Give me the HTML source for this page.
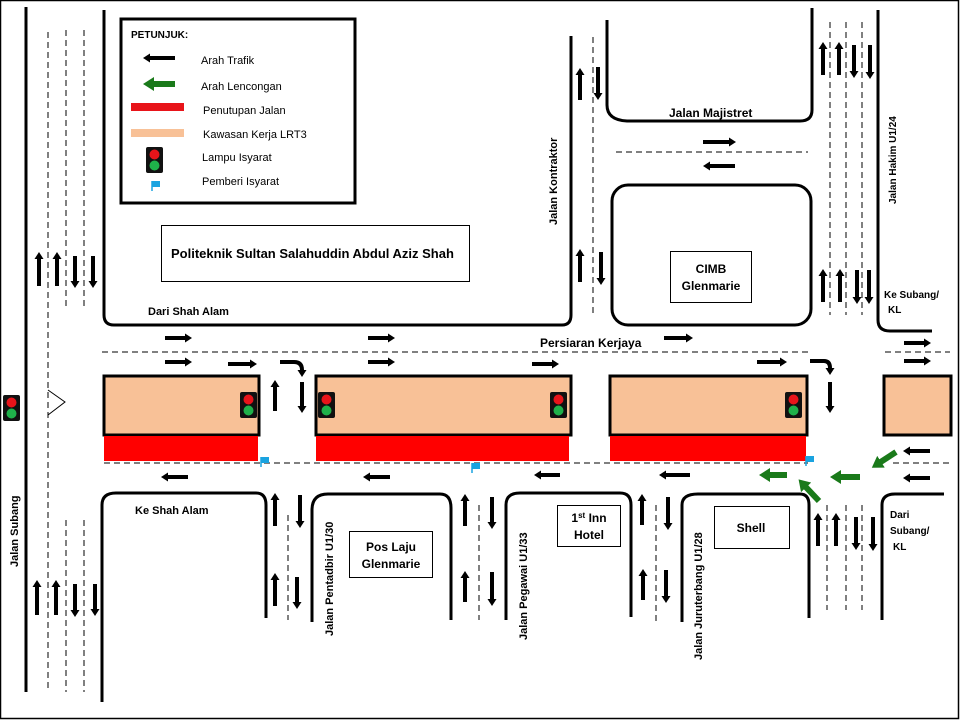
<!DOCTYPE html>
<html><head><meta charset="utf-8"><style>
html,body{margin:0;padding:0;background:#fff}
svg{display:block}
text{font-family:"Liberation Sans",sans-serif}
.b{font-weight:bold}
</style></head><body>
<svg width="960" height="720" viewBox="0 0 960 720" xmlns="http://www.w3.org/2000/svg">
<defs>
<marker id="a" markerUnits="userSpaceOnUse" markerWidth="8" markerHeight="9" refX="4" refY="4.5" orient="auto"><path d="M0,0 L7,4.5 L0,9z" fill="#000"/></marker>
<marker id="g" markerUnits="userSpaceOnUse" markerWidth="12" markerHeight="14" refX="6" refY="7" orient="auto"><path d="M0,0 L11,7 L0,14z" fill="#1a7a1a"/></marker>
<g id="tl"><rect x="0" y="0" width="17" height="26" rx="2" fill="#111"/><circle cx="8.5" cy="7.5" r="5" fill="#e8141a"/><circle cx="8.5" cy="18.5" r="5" fill="#1fb14a"/></g>
<g id="fl"><path d="M1,0 V10" stroke="#1aa3e0" stroke-width="1.5"/><rect x="1" y="0" width="8" height="6" fill="#1aa3e0"/></g>
</defs>
<rect x="0.5" y="0.5" width="958" height="718" fill="#fff" stroke="#000" stroke-width="1.5"/>

<g fill="none" stroke="#000" stroke-width="3">
<path d="M26,7 V692"/>
<path d="M104,10 V315 Q104,325 114,325 H562 Q571,325 571,315 V36"/>
<path d="M607,20 V105 Q607,120 627,121 H800 Q812,121 812,110 V8"/>
<rect x="612" y="185" width="199" height="140" rx="16"/>
<path d="M878,10 V320 Q878,331 890,331 H932"/>
<path d="M102,702 V505 Q102,493 116,493 H256 Q266,493 266,505 V618"/>
<path d="M312,622 V510 Q312,494 328,494 H440 Q451,494 451,508 V620"/>
<path d="M506,620 V505 Q506,493 520,493 H620 Q631,493 631,505 V617"/>
<path d="M682,622 V505 Q682,494 698,494 H800 Q809,494 809,505 V618"/>
<path d="M882,620 V505 Q882,494 895,494 H944"/>
</g>

<g stroke="#000" stroke-width="1" stroke-dasharray="6,4" fill="none">
<path d="M48,32 V692"/>
<path d="M66,30 V310 M84,30 V310 M66,520 V692 M84,520 V692"/>
<path d="M593,37 V313"/>
<path d="M616,152 H808"/>
<path d="M830,22 V315 M846,22 V315 M862,22 V315"/>
<path d="M102,352 H808 M885,352 H950"/>
<path d="M104,463 H808 M893,463 H950"/>
<path d="M288,515 V620 M479,505 V620 M656,505 V625"/>
<path d="M827,505 V610 M846,505 V610 M862,505 V610"/>
</g>

<rect x="121" y="19" width="234" height="184" fill="#fff" stroke="#000" stroke-width="3"/>
<text x="131" y="38" font-size="10" class="b">PETUNJUK:</text>
<path d="M175,58 H146" stroke="#000" stroke-width="4" marker-end="url(#a)"/>
<path d="M175,84 H148" stroke="#1a7a1a" stroke-width="6" marker-end="url(#g)"/>
<rect x="131" y="103" width="53" height="8" fill="#e8141a"/>
<rect x="131" y="129" width="53" height="8" fill="#f8c197"/>
<use href="#tl" x="146" y="147"/>
<use href="#fl" x="151" y="181"/>
<g font-size="11">
<text x="201" y="64">Arah Trafik</text>
<text x="201" y="90">Arah Lencongan</text>
<text x="203" y="114">Penutupan Jalan</text>
<text x="203" y="138">Kawasan Kerja LRT3</text>
<text x="202" y="161">Lampu Isyarat</text>
<text x="202" y="185">Pemberi Isyarat</text>
</g>

<rect x="161.5" y="225.5" width="308" height="56" fill="none" stroke="#000"/>
<text x="171" y="258" font-size="13" class="b">Politeknik Sultan Salahuddin Abdul Aziz Shah</text>
<text x="148" y="315" font-size="11" class="b">Dari Shah Alam</text>

<rect x="670.5" y="251.5" width="81" height="51" fill="none" stroke="#000"/>
<text x="711" y="273" font-size="12" class="b" text-anchor="middle">CIMB</text>
<text x="711" y="290" font-size="12" class="b" text-anchor="middle">Glenmarie</text>
<text x="669" y="117" font-size="12" class="b">Jalan Majistret</text>
<text x="540" y="347" font-size="12" class="b">Persiaran Kerjaya</text>
<text x="884" y="298" font-size="10" class="b">Ke Subang/</text>
<text x="888" y="313" font-size="10" class="b">KL</text>
<text transform="translate(557,225) rotate(-90)" font-size="11" class="b">Jalan Kontraktor</text>
<text transform="translate(896,204) rotate(-90)" font-size="10" class="b">Jalan  Hakim  U1/24</text>
<text transform="translate(18,567) rotate(-90)" font-size="11" class="b">Jalan Subang</text>

<g stroke="#000" stroke-width="3" fill="#f8c197">
<rect x="104" y="376" width="155" height="59"/>
<rect x="316" y="376" width="255" height="59"/>
<rect x="610" y="376" width="197" height="59"/>
<rect x="884" y="376" width="67" height="59"/>
</g>
<g fill="#f00">
<rect x="104" y="436" width="154" height="25"/>
<rect x="316" y="436" width="253" height="25"/>
<rect x="610" y="436" width="196" height="25"/>
</g>
<use href="#tl" x="240" y="392"/>
<use href="#tl" x="318" y="392"/>
<use href="#tl" x="550" y="392"/>
<use href="#tl" x="785" y="392"/>
<use href="#tl" x="3" y="395"/>
<path d="M48,390 L65,402 L48,415" fill="none" stroke="#000" stroke-width="1"/>
<use href="#fl" x="260" y="457"/>
<use href="#fl" x="471" y="463"/>
<use href="#fl" x="805" y="456"/>

<g stroke="#000" stroke-width="4" fill="none" marker-end="url(#a)">
<path d="M39,286 V255"/><path d="M57,286 V255"/><path d="M75,256 V285"/><path d="M93,256 V285"/>
<path d="M37,615 V583"/><path d="M56,615 V583"/><path d="M75,584 V614"/><path d="M95,584 V613"/>
<path d="M580,100 V71"/><path d="M598,67 V97"/><path d="M580,282 V252"/><path d="M601,252 V282"/>
<path d="M703,142 H733"/><path d="M735,166 H706"/>
<path d="M823,75 V45"/><path d="M839,75 V45"/><path d="M854,45 V75"/><path d="M870,45 V76"/>
<path d="M823,302 V272"/><path d="M840,302 V272"/><path d="M857,270 V301"/><path d="M869,270 V301"/>
<path d="M165,338 H189"/><path d="M368,338 H392"/><path d="M664,338 H690"/><path d="M904,343 H928"/>
<path d="M165,362 H189"/><path d="M228,364 H254"/><path d="M368,362 H392"/><path d="M532,364 H556"/><path d="M757,362 H784"/><path d="M904,361 H928"/>
<path d="M280,362 H294 Q302,362 302,370 V374"/>
<path d="M810,361 H824 Q830,361 830,368 V372"/>
<path d="M275,411 V383"/><path d="M302,382 V410"/><path d="M830,382 V410"/>
<path d="M188,477 H164"/><path d="M390,477 H366"/><path d="M560,475 H537"/><path d="M690,475 H662"/>
<path d="M930,451 H906"/><path d="M930,478 H906"/>
<path d="M275,526 V496"/><path d="M275,606 V576"/><path d="M300,495 V525"/><path d="M297,577 V606"/>
<path d="M465,526 V497"/><path d="M465,602 V574"/><path d="M492,497 V526"/><path d="M492,572 V603"/>
<path d="M642,525 V497"/><path d="M643,600 V572"/><path d="M668,497 V527"/><path d="M666,570 V600"/>
<path d="M818,546 V516"/><path d="M836,546 V516"/><path d="M856,517 V547"/><path d="M873,517 V548"/>
</g>

<g stroke="#1a7a1a" stroke-width="6" fill="none" marker-end="url(#g)">
<path d="M787,475 H764"/>
<path d="M860,477 H835"/>
<path d="M896,452 L876,465"/>
<path d="M819,501 L802,483"/>
</g>

<text x="135" y="514" font-size="11" class="b">Ke Shah Alam</text>
<rect x="349.5" y="531.5" width="83" height="46" fill="none" stroke="#000"/>
<text x="391" y="551" font-size="12" class="b" text-anchor="middle">Pos Laju</text>
<text x="391" y="568" font-size="12" class="b" text-anchor="middle">Glenmarie</text>
<rect x="557.5" y="505.5" width="63" height="41" fill="none" stroke="#000"/>
<text x="589" y="522" font-size="12" class="b" text-anchor="middle">1<tspan font-size="8" dy="-4">st</tspan><tspan dy="4"> Inn</tspan></text>
<text x="589" y="539" font-size="12" class="b" text-anchor="middle">Hotel</text>
<rect x="714.5" y="506.5" width="75" height="42" fill="none" stroke="#000"/>
<text x="751" y="532" font-size="12" class="b" text-anchor="middle">Shell</text>
<text x="890" y="518" font-size="10" class="b">Dari</text>
<text x="890" y="534" font-size="10" class="b">Subang/</text>
<text x="893" y="550" font-size="10" class="b">KL</text>
<text transform="translate(333,636) rotate(-90)" font-size="11" class="b">Jalan Pentadbir U1/30</text>
<text transform="translate(527,640) rotate(-90)" font-size="11" class="b">Jalan Pegawai U1/33</text>
<text transform="translate(702,660) rotate(-90)" font-size="11" class="b">Jalan Juruterbang U1/28</text>
</svg>
</body></html>
